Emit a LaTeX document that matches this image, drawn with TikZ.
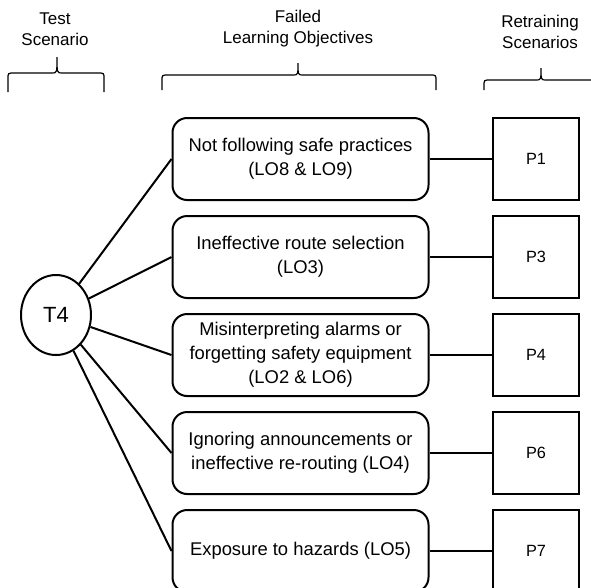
\documentclass[tikz,border=0pt]{standalone}
\usepackage{fontspec}
\setmainfont{Liberation Sans}
\usetikzlibrary{shapes.geometric}
\begin{document}
\begin{tikzpicture}[x=0.75pt,y=-0.75pt,
  hdr/.style={align=center,inner sep=0pt,font=\fontsize{12.75pt}{15.5pt}\selectfont},
  lobox/.style={draw,line width=1.5pt,rounded corners=11pt,minimum width=192pt,minimum height=61.5pt,inner sep=0pt,align=center,font=\fontsize{13.8pt}{18pt}\selectfont},
  pbox/.style={draw,line width=1.5pt,minimum width=64.5pt,minimum height=61.5pt,inner sep=0pt,font=\fontsize{12.2pt}{14pt}\selectfont},
  tnode/.style={draw,ellipse,line width=1.5pt,minimum width=52.5pt,minimum height=60pt,inner sep=0pt,font=\fontsize{16.5pt}{18pt}\selectfont},
  conn/.style={line width=1.5pt},
  brace/.style={line width=0.9pt}]
\useasboundingbox (0,0) rectangle (591,587);

% headers
\node[hdr] (h1) at (55,29) {Test\\Scenario};
\node[hdr] (h2) at (298,28.5) {Failed\\Learning Objectives};
\node[hdr] (h3) at (540,32) {Retraining\\Scenarios};

% braces
\draw[brace] (8,92) -- (8,79) .. controls (8,73) .. (14,73) -- (52,73) .. controls (57,73) .. (57,57) .. controls (57,73) .. (62,73) -- (98,73) .. controls (104,73) .. (104,79) -- (104,92);
\draw[brace] (162,90) -- (162,81) .. controls (162,75) .. (168,75) -- (293,75) .. controls (298,75) .. (298,63) .. controls (298,75) .. (303,75) -- (430,75) .. controls (436,75) .. (436,81) -- (436,90);
\draw[brace] (484,90) -- (484,86) .. controls (484,80) .. (490,80) -- (536,80) .. controls (541,80) .. (541,68) .. controls (541,80) .. (546,80) -- (592,80) .. controls (598,80) .. (598,86) -- (598,90);

% test node
\node[tnode] (t4) at (56,315) {T4};

% learning objective boxes
\node[lobox] (lo1) at (300.5,159) {Not following safe practices\\(LO8 \& LO9)};
\node[lobox] (lo2) at (300.5,257) {Ineffective route selection\\(LO3)};
\node[lobox] (lo3) at (300.5,355) {Misinterpreting alarms or\\forgetting safety equipment\\(LO2 \& LO6)};
\node[lobox] (lo4) at (300.5,453) {Ignoring announcements or\\ineffective re-routing (LO4)};
\node[lobox] (lo5) at (300.5,551) {Exposure to hazards (LO5)};

% retraining boxes
\node[pbox] (p1) at (536,159) {P1};
\node[pbox] (p3) at (536,257) {P3};
\node[pbox] (p4) at (536,355) {P4};
\node[pbox] (p6) at (536,453) {P6};
\node[pbox] (p7) at (536,551) {P7};

% connectors
\foreach \b in {lo1,lo2,lo3,lo4,lo5} \draw[conn] (t4) -- (\b.west);
\draw[conn] (lo1) -- (p1);
\draw[conn] (lo2) -- (p3);
\draw[conn] (lo3) -- (p4);
\draw[conn] (lo4) -- (p6);
\draw[conn] (lo5) -- (p7);
\end{tikzpicture}
\end{document}
